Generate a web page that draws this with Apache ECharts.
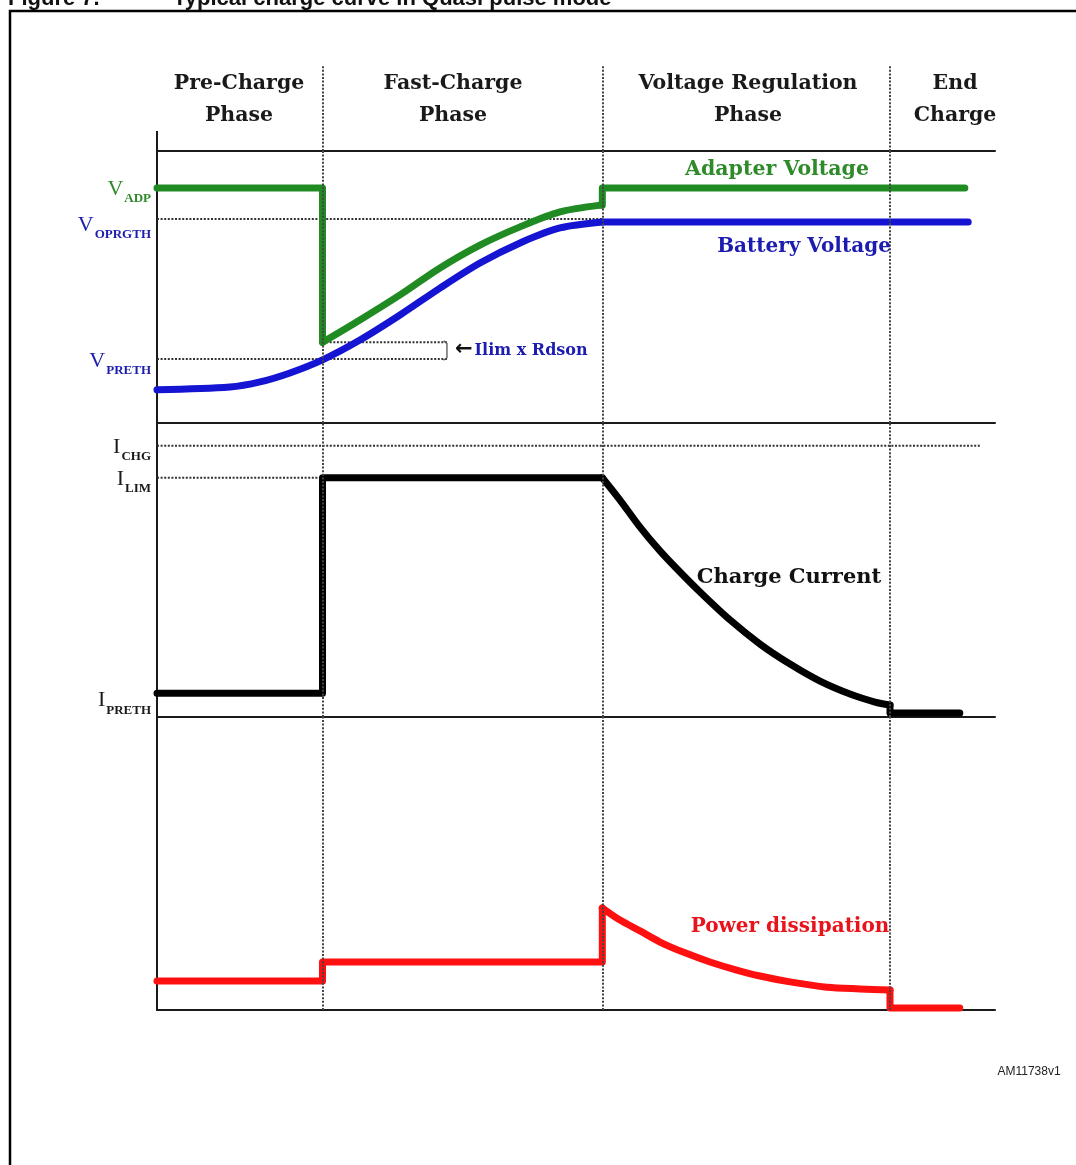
<!DOCTYPE html>
<html><head><meta charset="utf-8">
<script src="https://cdn.jsdelivr.net/npm/echarts@6/dist/echarts.min.js"></script>
<style>html,body{margin:0;padding:0;background:#fff;overflow:hidden}#c{width:1076px;height:1165px}</style>
</head><body><div id="c"></div>
<script>
// ---------- DATA (time in arbitrary units 0..100, levels in arbitrary units 0..10) ----------
const phaseBounds = [19.75, 53.14, 87.47];
const phaseNames = ['Pre-Charge\nPhase', 'Fast-Charge\nPhase', 'Voltage Regulation\nPhase', 'End\nCharge'];
const phaseCenters = [9.79, 35.32, 70.53, 95.23];

const voltageTicks = [8.64, 7.50, 2.35];
const voltageTickSubs = ['ADP', 'OPRGTH', 'PRETH'];
const currentTicks = [9.23, 8.14, 0.81];
const currentTickSubs = ['CHG', 'LIM', 'PRETH'];

const adapterVoltage = [[0, 8.64], [19.75, 8.64], [19.75, 2.97], [24.22, 3.79], [29.0, 4.71], [33.77, 5.70], [38.54, 6.54], [43.32, 7.21], [48.09, 7.76], [52.86, 8.01], [53.14, 8.01], [53.14, 8.64], [96.4, 8.64]];
const batteryVoltage = [[0, 1.22], [8.71, 1.32], [12.29, 1.51], [15.87, 1.84], [19.75, 2.32], [24.22, 3.05], [29.0, 3.97], [33.77, 4.96], [38.54, 5.88], [43.32, 6.62], [48.09, 7.17], [53.14, 7.39], [96.8, 7.39]];
const voprgthLevel = [[0, 7.50], [53.14, 7.50]];
const vprethLevel = [[0, 2.35], [34.6, 2.35]];
const ilimRdsonLevel = [[19.75, 2.97], [34.6, 2.97]];
const ilimRdsonBracket = [[34.2, 3.02], [34.6, 2.93], [34.6, 2.40], [34.2, 2.31]];

const chargeCurrent = [[0, 0.81], [19.75, 0.81], [19.75, 8.14], [53.14, 8.14], [55.25, 7.38], [57.64, 6.46], [60.02, 5.65], [62.41, 4.93], [64.8, 4.25], [68.38, 3.30], [71.96, 2.48], [75.54, 1.80], [79.12, 1.22], [82.7, 0.78], [85.68, 0.51], [87.47, 0.41], [87.47, 0.14], [95.8, 0.14]];
const ichgLevel = [[0, 9.23], [98.2, 9.23]];
const ilimLevel = [[0, 8.14], [19.75, 8.14]];

const powerDissipation = [[0, 0.99], [19.75, 0.99], [19.75, 1.64], [53.14, 1.64], [53.14, 3.48], [55.25, 3.07], [57.64, 2.70], [60.02, 2.32], [63.01, 1.95], [65.99, 1.64], [68.97, 1.38], [71.96, 1.16], [75.54, 0.96], [79.95, 0.78], [83.89, 0.72], [87.47, 0.68], [87.47, 0.07], [95.8, 0.07]];

const voltageNotes = [{name: 'Adapter Voltage', value: [73.99, 9.30]}, {name: 'Battery Voltage', value: [77.21, 6.47]}];
const ilimNote = [{name: 'Ilim x Rdson', value: [35.56, 2.66]}];
const currentNote = [{name: 'Charge Current', value: [75.42, 4.73]}];
const powerNote = [{name: 'Power dissipation', value: [75.54, 2.83]}];

// ---------- STYLE ----------
const GREEN = '#1f8b22', BLUE = '#1414d2', RED = '#ff1010', BLACK = '#000';
const GREEN_T = '#2f8a2a', BLUE_T = '#1c1cb0', RED_T = '#e8141c';
const AX = '#1a1a1a';
const SERIF = "'DejaVu Serif', serif";
const dotted = {color: '#333', width: 2, type: [2, 1.6]};
const L = 157, R = 1076 - 995;

const chart = echarts.init(document.getElementById('c'));

function xAx(grid, show, pos) {
  return {type: 'value', gridIndex: grid, min: 0, max: 100, show: show, position: pos || 'bottom',
    axisLine: {show: true, onZero: false, lineStyle: {color: AX, width: 2}},
    axisTick: {show: false}, axisLabel: {show: false}, splitLine: {show: false}};
}
// gaps: height of an empty first line, shifting each label down by half of it
function labelRich(colors, gaps) {
  const r = {};
  gaps.forEach((g, i) => {
    r['g' + i] = {fontSize: 1, lineHeight: g, height: g};
    r['m' + i] = {fontFamily: "'Liberation Serif', serif", fontSize: 22, lineHeight: 22, color: colors[i], verticalAlign: 'bottom', padding: [0, 0, 5, 0]};
    r['s' + i] = {fontFamily: "'Liberation Serif', serif", fontWeight: 'bold', fontSize: 13, lineHeight: 13, color: colors[i], verticalAlign: 'bottom', padding: [0, 0, 0, 1]};
  });
  return r;
}
function nearest(arr, v) { let b = 0; arr.forEach((a, i) => { if (Math.abs(a - v) < Math.abs(arr[b] - v)) b = i; }); return b; }
function plainY(grid, showLine) {
  return {type: 'value', gridIndex: grid, min: 0, max: 10, position: 'left', show: true,
    axisLine: {show: showLine, onZero: false, lineStyle: {color: AX, width: 2}},
    axisTick: {show: false}, splitLine: {show: false}, axisLabel: {show: false}};
}
function labelY(grid, showLine, ticks, idxs, main, subs, colors, gaps) {
  const o = plainY(grid, showLine);
  o.axisLabel = {show: true, customValues: idxs.map(i => ticks[i]), margin: 6, align: 'right', interval: 0, hideOverlap: false,
    formatter: v => { const i = nearest(ticks, v); return '{g' + i + '| }\n{m' + i + '|' + main + '}{s' + i + '|' + subs[i] + '}'; },
    rich: labelRich(colors, gaps)};
  return o;
}
function phaseMark() {
  return {symbol: 'none', silent: true, z: 6, label: {show: false}, lineStyle: Object.assign({}, dotted, {color: '#444'}),
    emphasis: {disabled: true}, data: phaseBounds.map(t => ({xAxis: t}))};
}
// split a polyline into axis-aligned runs (drawn straight) and sloped runs (drawn smooth)
function pathSeries(name, data, xi, yi, color, z) {
  const runs = [];
  let cur = null;
  for (let i = 1; i < data.length; i++) {
    const a = data[i - 1], b = data[i];
    const straight = (a[0] === b[0]) || (a[1] === b[1]);
    if (!cur || cur.straight !== straight) { cur = {straight, pts: [a]}; runs.push(cur); }
    cur.pts.push(b);
  }
  return runs.map(r => ({name: name, type: 'line', xAxisIndex: xi, yAxisIndex: yi, data: r.pts, symbol: 'none',
    clip: false, silent: true, z: z, smooth: r.straight ? false : 0.3,
    lineStyle: {color, width: 7, cap: 'round', join: 'round'}, emphasis: {disabled: true}}));
}
function level(name, data, xi, yi, extra) {
  return Object.assign({name, type: 'line', xAxisIndex: xi, yAxisIndex: yi, data, symbol: 'none', silent: true, z: 1,
    lineStyle: dotted, emphasis: {disabled: true}}, extra || {});
}
function note(data, xi, yi, label) {
  return {type: 'scatter', xAxisIndex: xi, yAxisIndex: yi, data, symbolSize: 0, silent: true, z: 8,
    itemStyle: {opacity: 1}, emphasis: {disabled: true},
    label: Object.assign({show: true, position: 'inside', opacity: 1, formatter: p => p.name}, label)};
}

const series = [
  // header
  {type: 'scatter', xAxisIndex: 0, yAxisIndex: 0, symbolSize: 0, silent: true, z: 8, itemStyle: {opacity: 1}, emphasis: {disabled: true},
    data: phaseNames.map((n, i) => ({name: n, value: [phaseCenters[i], 5.93]})),
    label: {show: true, position: 'inside', opacity: 1, formatter: p => p.name, fontFamily: SERIF, fontWeight: 'bold', fontSize: 20.5, lineHeight: 32, color: '#1a1a1a', align: 'center'},
    markLine: phaseMark()},
  // voltage panel
  level('V_OPRGTH', voprgthLevel, 1, 1, {markLine: phaseMark()}),
  level('V_PRETH', vprethLevel, 1, 1),
  level('Ilim x Rdson level', ilimRdsonLevel, 1, 1),
  level('bracket', ilimRdsonBracket, 1, 1, {lineStyle: {color: '#555', width: 1.3}}),
  ...pathSeries('Adapter Voltage', adapterVoltage, 1, 1, GREEN, 3),
  ...pathSeries('Battery Voltage', batteryVoltage, 1, 1, BLUE, 4),
  note(voltageNotes.slice(0, 1), 1, 1, {fontFamily: SERIF, fontWeight: 'bold', fontSize: 20.5, color: GREEN_T}),
  note(voltageNotes.slice(1), 1, 1, {fontFamily: SERIF, fontWeight: 'bold', fontSize: 20, color: BLUE_T}),
  note(ilimNote, 1, 1, {position: 'right', distance: 0, formatter: p => '{a|←}{b|' + p.name + '}',
    rich: {a: {fontFamily: "'DejaVu Sans', sans-serif", fontWeight: 'bold', fontSize: 21, color: '#111', padding: [0, 2, 2, 0]},
           b: {fontFamily: SERIF, fontWeight: 'bold', fontSize: 16, color: BLUE_T}}}),
  // current panel
  level('I_CHG', ichgLevel, 3, 2, {markLine: phaseMark()}),
  level('I_LIM', ilimLevel, 3, 2),
  ...pathSeries('Charge Current', chargeCurrent, 3, 2, BLACK, 3),
  note(currentNote, 3, 2, {fontFamily: SERIF, fontWeight: 'bold', fontSize: 21, color: '#111'}),
  // power panel
  ...pathSeries('Power dissipation', powerDissipation, 4, 3, RED, 3),
  {type: 'line', xAxisIndex: 4, yAxisIndex: 3, data: [], silent: true, markLine: phaseMark()},
  note(powerNote, 4, 3, {fontFamily: SERIF, fontWeight: 'bold', fontSize: 20, color: RED_T})
];

const vColors = [GREEN_T, BLUE_T, BLUE_T], vGaps = [12, 22, 14];
const iColors = ['#1a1a1a', '#1a1a1a', '#1a1a1a'], iGaps = [13, 13, 25];

const option = {
  animation: false,
  backgroundColor: '#fff',
  grid: [
    {left: L, right: R, top: 65, height: 86},
    {left: L, right: R, top: 151, height: 272},
    {left: L, right: R, top: 423, height: 294},
    {left: L, right: R, top: 717, height: 293}
  ],
  xAxis: [xAx(0, false), xAx(1, true), xAx(1, true, 'top'), xAx(2, true), xAx(3, true)],
  yAxis: [
    Object.assign(plainY(0, false), {show: false}),
    labelY(1, true, voltageTicks, [0, 2], 'V', voltageTickSubs, vColors, vGaps),
    labelY(2, true, currentTicks, [0, 2], 'I', currentTickSubs, iColors, iGaps),
    plainY(3, true),
    labelY(1, false, voltageTicks, [1], 'V', voltageTickSubs, vColors, vGaps),
    labelY(2, false, currentTicks, [1], 'I', currentTickSubs, iColors, iGaps)
  ],
  graphic: [
    {type: 'rect', shape: {x: 10, y: 11, width: 1300, height: 1400}, style: {fill: 'none', stroke: '#000', lineWidth: 2.5}, silent: true},
    {type: 'text', x: 8, y: -1.5, style: {text: 'Figure 7.', font: "bold 22px 'Liberation Sans', Arial, sans-serif", fill: '#111', verticalAlign: 'middle'}, silent: true},
    {type: 'text', x: 173, y: -1.5, style: {text: 'Typical charge curve in Quasi pulse mode', font: "bold 22px 'Liberation Sans', Arial, sans-serif", fill: '#111', verticalAlign: 'middle'}, silent: true},
    {type: 'line', shape: {x1: 157, y1: 131, x2: 157, y2: 151}, style: {stroke: AX, lineWidth: 2}, silent: true},
    {type: 'text', x: 1029, y: 1072, style: {text: 'AM11738v1', font: "12px 'Liberation Sans', Arial, sans-serif", fill: '#222', align: 'center', verticalAlign: 'middle'}, silent: true}
  ],
  series: series
};
chart.setOption(option);
</script>
</body></html>
